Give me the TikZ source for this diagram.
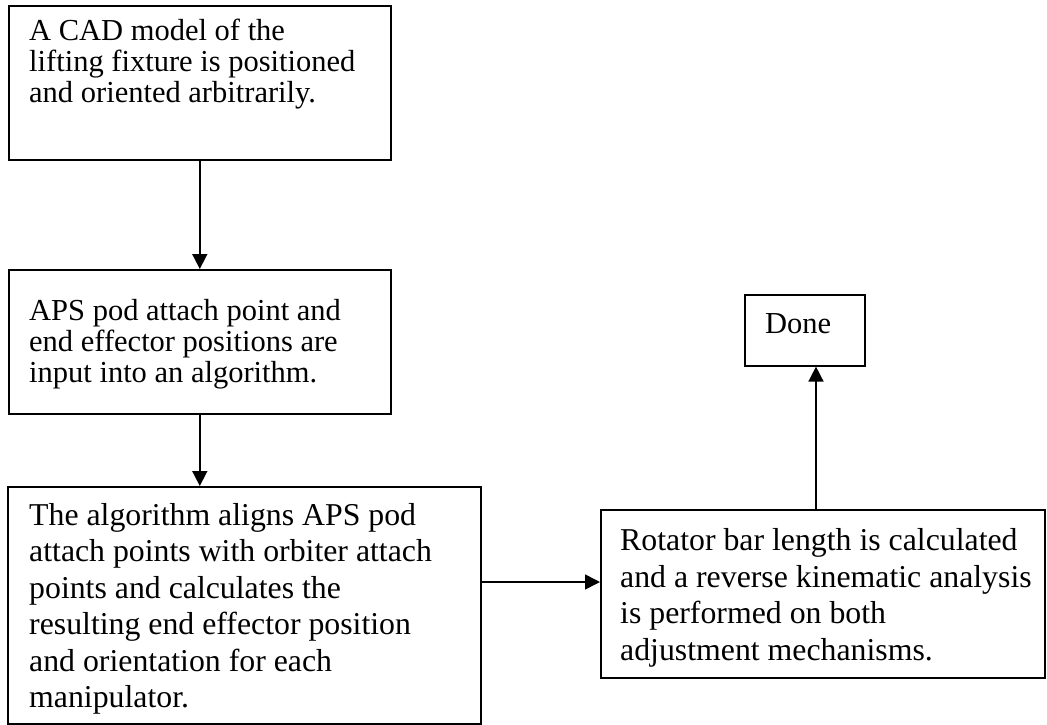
\documentclass[tikz,border=0pt]{standalone}
\usepackage{fontspec}
\setmainfont{Liberation Serif}
\usetikzlibrary{arrows.meta}
\begin{document}
\begin{tikzpicture}[x=1pt,y=-1pt,
  box/.style={draw, line width=1.6pt, inner sep=0pt, anchor=north west},
  txt/.style={inner sep=0pt, anchor=north west, align=left},
  fa/.style={font=\fontsize{30.5pt}{31pt}\selectfont},
  fb/.style={font=\fontsize{31.8pt}{36.5pt}\selectfont},
  arr/.style={line width=1.6pt, -{Triangle[length=15pt,width=15pt]}}]
\useasboundingbox (0,0) rectangle (1047,725);
% boxes
\node[box, minimum width=382pt, minimum height=154pt] (b1) at (8,5) {};
\node[box, minimum width=382pt, minimum height=144pt] (b2) at (8,269) {};
\node[box, minimum width=473pt, minimum height=237pt] (b3) at (7,486) {};
\node[box, minimum width=444pt, minimum height=168pt] (b4) at (600,509) {};
\node[box, minimum width=120pt, minimum height=71pt] (done) at (744,294) {};
% texts
\node[txt, fa] (t1) at (29,18.3) {\strut A CAD model of the\\lifting fixture is positioned\\and oriented arbitrarily.};
\node[txt, fa] (t2) at (29,298.3) {\strut APS pod attach point and\\end effector positions are\\input into an algorithm.};
\node[txt, fb] (t3) at (29,499.5) {\strut The algorithm aligns APS pod\\attach points with orbiter attach\\points and calculates the\\resulting end effector position\\and orientation for each\\manipulator.};
\node[txt, fb] (t4) at (620,524.8) {\strut Rotator bar length is calculated\\and a reverse kinematic analysis\\is performed on both\\adjustment mechanisms.};
\node[txt, fa] (t5) at (765,311.3) {\strut Done};
% connectors
\coordinate (h) at (0,582);
\coordinate (v) at (816,0);
\draw[arr] (b1.south) -- (b2.north);
\draw[arr] (b2.south) -- (b2.south |- b3.north);
\draw[arr] (b3.east |- h) -- (b4.west |- h);
\draw[arr] (b4.north -| v) -- (done.south -| v);
\end{tikzpicture}
\end{document}
